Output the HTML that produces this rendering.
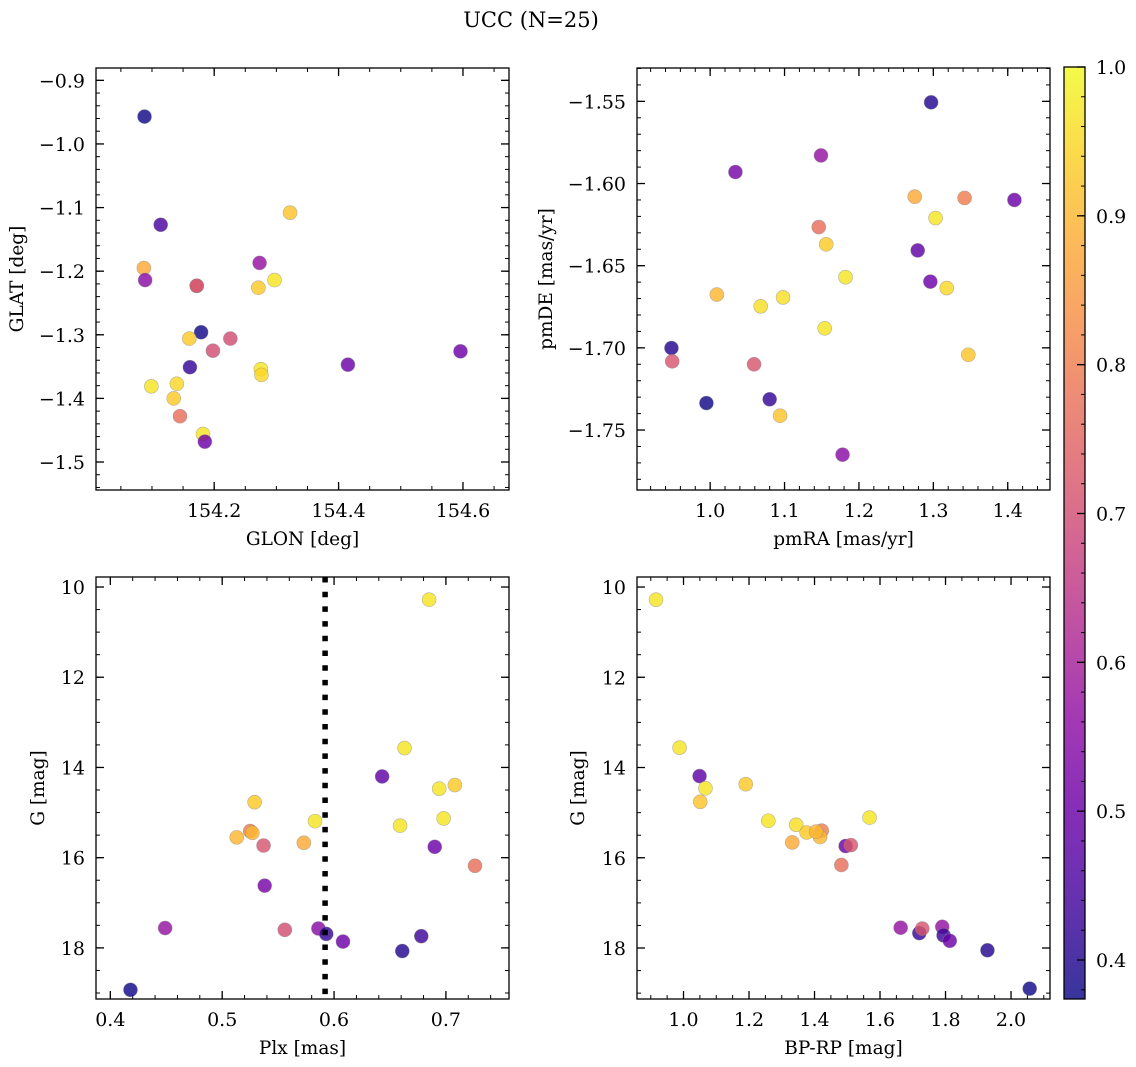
<!DOCTYPE html>
<html><head><meta charset="utf-8">
<style>
html,body{margin:0;padding:0;background:#fff;}
svg{display:block;font-family:"DejaVu Serif","Liberation Serif",serif;}
</style></head>
<body>
<svg id="fig" width="1136" height="1067" viewBox="0 0 1136 1067" xmlns="http://www.w3.org/2000/svg">
<rect width="1136" height="1067" fill="#fff"/>
<text x="531" y="27" font-size="21" text-anchor="middle">UCC (N=25)</text>
</svg>
<script>
// ---- data ----
const glon = [154.088,154.114,154.087,154.089,154.172,154.172,154.322,154.273,154.297,154.271,154.179,154.160,154.226,154.198,154.161,154.275,154.276,154.415,154.596,154.099,154.140,154.135,154.145,154.182,154.185];
const glat = [-0.957,-1.127,-1.195,-1.214,-1.223,-1.223,-1.108,-1.187,-1.214,-1.226,-1.296,-1.306,-1.306,-1.325,-1.351,-1.354,-1.363,-1.347,-1.326,-1.381,-1.377,-1.400,-1.428,-1.456,-1.468];
const probA = [0.38,0.45,0.88,0.55,0.60,0.74,0.92,0.57,0.97,0.93,0.38,0.93,0.70,0.70,0.42,0.97,0.95,0.50,0.50,0.97,0.95,0.93,0.77,0.97,0.50];

const pmra = [1.297,1.149,1.034,1.275,1.342,1.409,1.303,1.146,1.156,1.279,1.182,1.296,1.318,1.009,1.098,1.068,1.154,1.347,0.948,0.949,1.059,0.995,1.080,1.094,1.178];
const pmde = [-1.5506,-1.5829,-1.593,-1.608,-1.6088,-1.610,-1.621,-1.6265,-1.637,-1.6407,-1.657,-1.6597,-1.6636,-1.6676,-1.6693,-1.6747,-1.6881,-1.7042,-1.7001,-1.7082,-1.710,-1.7336,-1.7313,-1.7413,-1.765];
const probB = [0.40,0.57,0.52,0.88,0.80,0.50,0.97,0.77,0.93,0.48,0.97,0.50,0.95,0.90,0.96,0.96,0.97,0.92,0.40,0.72,0.72,0.38,0.42,0.92,0.55];

const plx = [0.685,0.663,0.643,0.694,0.708,0.698,0.659,0.690,0.726,0.529,0.525,0.527,0.513,0.537,0.573,0.583,0.538,0.449,0.556,0.586,0.593,0.608,0.661,0.678,0.418];
const gmagC = [10.28,13.57,14.20,14.47,14.39,15.13,15.29,15.76,16.18,14.77,15.41,15.45,15.55,15.73,15.67,15.19,16.62,17.56,17.60,17.57,17.69,17.86,18.07,17.74,18.93];
const probC = [0.97,0.97,0.48,0.97,0.93,0.97,0.97,0.50,0.77,0.93,0.80,0.90,0.90,0.72,0.88,0.97,0.52,0.57,0.70,0.55,0.42,0.50,0.40,0.43,0.38];
const plxLine = 0.592;

const bprp = [0.916,0.988,1.049,1.067,1.051,1.190,1.259,1.344,1.376,1.422,1.417,1.332,1.568,1.495,1.511,1.482,1.663,1.720,1.729,1.790,1.794,1.813,1.928,2.057,1.405];
const gmagD = [10.28,13.56,14.19,14.46,14.76,14.37,15.18,15.27,15.44,15.40,15.54,15.66,15.11,15.74,15.72,16.16,17.55,17.67,17.57,17.53,17.72,17.84,18.05,18.90,15.42];
const probD = [0.97,0.97,0.48,0.97,0.92,0.93,0.97,0.96,0.93,0.80,0.90,0.88,0.97,0.50,0.72,0.77,0.57,0.42,0.72,0.57,0.43,0.50,0.40,0.38,0.90];

const ticksGlon = [154.2,154.4,154.6];
const ticksGlat = [-0.9,-1.0,-1.1,-1.2,-1.3,-1.4,-1.5];
const ticksPmra = [1.0,1.1,1.2,1.3,1.4];
const ticksPmde = [-1.55,-1.60,-1.65,-1.70,-1.75];
const ticksPlx = [0.4,0.5,0.6,0.7];
const ticksG = [10,12,14,16,18];
const ticksBprp = [1.0,1.2,1.4,1.6,1.8,2.0];
const ticksCbar = [0.4,0.5,0.6,0.7,0.8,0.9,1.0];
const cMin = 0.3738, cMax = 1.0;

// ---- helpers ----
const NS = "http://www.w3.org/2000/svg";
const svg = document.getElementById('fig');
function mk(tag, attrs, parent){ const e=document.createElementNS(NS,tag); for(const k in attrs) e.setAttribute(k,attrs[k]); (parent||svg).appendChild(e); return e; }
const plasma = [[13,8,135],[65,4,157],[106,0,168],[143,13,164],[177,42,144],[204,71,120],[225,100,98],[242,132,75],[252,166,54],[252,206,37],[240,249,33]];
function cmap(v){ let t=(v-cMin)/(cMax-cMin); t=Math.max(0,Math.min(1,t)); const p=t*10; const i=Math.min(9,Math.floor(p)); const f=p-i; const a=plasma[i],b=plasma[i+1]; return 'rgb('+[0,1,2].map(k=>Math.round(a[k]+(b[k]-a[k])*f)).join(',')+')'; }
function fmt(v,d){ const s=Math.abs(v).toFixed(d); return (v<0?'\u2212':'')+s; }
function minorList(lo,hi,step){ const out=[]; const s=Math.ceil(lo/step-1e-9); for(let i=s; i*step<=hi+1e-9; i++) out.push(+(i*step).toFixed(6)); return out; }
const TF = 19;

function panel(cfg){
  const g = mk('g',{});
  
  
  const {L,T,W,H,x0,x1,y0,y1} = cfg;
  const sx = v => L + (v-x0)/(x1-x0)*W;
  const sy = v => cfg.yinv ? T + (v-y0)/(y1-y0)*H : T + (y1-v)/(y1-y0)*H;
  const ylo=Math.min(y0,y1), yhi=Math.max(y0,y1);
  minorList(x0,x1,cfg.xminor).forEach(v=>{ const x=sx(v);
    mk('line',{x1:x,x2:x,y1:T+H,y2:T+H-4,stroke:'#000','stroke-width':1},g);
    mk('line',{x1:x,x2:x,y1:T,y2:T+4,stroke:'#000','stroke-width':1},g); });
  minorList(ylo,yhi,cfg.yminor).forEach(v=>{ const y=sy(v);
    mk('line',{x1:L,x2:L+4,y1:y,y2:y,stroke:'#000','stroke-width':1},g);
    mk('line',{x1:L+W,x2:L+W-4,y1:y,y2:y,stroke:'#000','stroke-width':1},g); });
  cfg.xt.forEach(v=>{ const x=sx(v);
    mk('line',{x1:x,x2:x,y1:T+H,y2:T+H-8,stroke:'#000','stroke-width':1.3},g);
    mk('line',{x1:x,x2:x,y1:T,y2:T+8,stroke:'#000','stroke-width':1.3},g);
    const t=mk('text',{x:x,y:T+H+27,'font-size':TF,'text-anchor':'middle'},g); t.textContent=fmt(v,cfg.xd);
    
     });
  cfg.yt.forEach(v=>{ const y=sy(v);
    mk('line',{x1:L,x2:L+8,y1:y,y2:y,stroke:'#000','stroke-width':1.3},g);
    mk('line',{x1:L+W,x2:L+W-8,y1:y,y2:y,stroke:'#000','stroke-width':1.3},g);
    const t=mk('text',{x:L-11,y:y+7,'font-size':TF,'text-anchor':'end'},g); t.textContent=fmt(v,cfg.yd);
    
     });
  const pg = mk('g',{},g);
  
  
  cfg.xs.forEach((xv,i)=>{
    const c=mk('circle',{cx:sx(xv),cy:sy(cfg.ys[i]),r:7,fill:cmap(cfg.cs[i]),'fill-opacity':0.82,stroke:'#888','stroke-opacity':0.6,'stroke-width':0.6},pg);
    
    
  });
  if(cfg.vline!==undefined){
    const x=sx(cfg.vline);
    const l=mk('line',{x1:x,x2:x,y1:T,y2:T+H,stroke:'#000','stroke-width':5.5,'stroke-dasharray':'5.5 9.2'},g);
    
    
  }
  const fr=mk('rect',{x:L,y:T,width:W,height:H,fill:'none',stroke:'#000','stroke-width':1.3},g);
  
  
  const xl=mk('text',{x:L+W/2,y:T+H+55,'font-size':18.5,'text-anchor':'middle'},g); xl.textContent=cfg.xlab;
  
  
  const yx=cfg.ylabX, yy=T+H/2;
  const yl=mk('text',{x:yx,y:yy,'font-size':18.5,'text-anchor':'middle',transform:'rotate(-90 '+yx+' '+yy+')'},g); yl.textContent=cfg.ylab;
  
  
}

panel({name:'glon-glat-panel',L:96,T:68,W:413,H:422,x0:154.010,x1:154.674,y0:-1.544,y1:-0.8806,xt:ticksGlon,yt:ticksGlat,xd:1,yd:1,xminor:0.05,yminor:0.02,xs:glon,ys:glat,cs:probA,xlab:'GLON [deg]',ylab:'GLAT [deg]',ylabX:23});
panel({name:'pmra-pmde-panel',L:637,T:68,W:413,H:422,x0:0.9017,x1:1.4568,y0:-1.7865,y1:-1.5297,xt:ticksPmra,yt:ticksPmde,xd:1,yd:2,xminor:0.02,yminor:0.01,xs:pmra,ys:pmde,cs:probB,xlab:'pmRA [mas/yr]',ylab:'pmDE [mas/yr]',ylabX:552});
panel({name:'plx-g-panel',L:96,T:577,W:413,H:422,x0:0.3872,x1:0.7564,y0:9.778,y1:19.133,yinv:true,xt:ticksPlx,yt:ticksG,xd:1,yd:0,xminor:0.02,yminor:0.5,xs:plx,ys:gmagC,cs:probC,vline:plxLine,xlab:'Plx [mas]',ylab:'G [mag]',ylabX:44});
panel({name:'cmd-panel',L:637,T:577,W:413,H:422,x0:0.858,x1:2.119,y0:9.778,y1:19.13,yinv:true,xt:ticksBprp,yt:ticksG,xd:1,yd:0,xminor:0.05,yminor:0.5,xs:bprp,ys:gmagD,cs:probD,xlab:'BP-RP [mag]',ylab:'G [mag]',ylabX:584});

// ---- colorbar ----
(function(){
  const L=1064,T=67,W=21,H=932;
  const cg=mk('g',{});
  
  
  const defs=mk('defs',{},cg);
  const grad=mk('linearGradient',{id:'pl',x1:0,y1:1,x2:0,y2:0},defs);
  for(let i=0;i<=20;i++){ const v=cMin+(cMax-cMin)*i/20; mk('stop',{offset:(i/20),'stop-color':cmap(v),'stop-opacity':0.82},grad); }
  mk('rect',{x:L,y:T,width:W,height:H,fill:'url(#pl)'},cg);
  const sy=v=>T+(cMax-v)/(cMax-cMin)*H;
  minorList(cMin,cMax,0.02).forEach(v=>{ const y=sy(v); mk('line',{x1:L+W,x2:L+W-4,y1:y,y2:y,stroke:'#000','stroke-width':1},cg); });
  ticksCbar.forEach(v=>{ const y=sy(v);
    mk('line',{x1:L+W,x2:L+W-8,y1:y,y2:y,stroke:'#000','stroke-width':1.3},cg);
    const t=mk('text',{x:L+W+11,y:y+7,'font-size':TF},cg); t.textContent=v.toFixed(1);
    
     });
  mk('rect',{x:L,y:T,width:W,height:H,fill:'none',stroke:'#000','stroke-width':1.3},cg);
})();
</script>
</body></html>
